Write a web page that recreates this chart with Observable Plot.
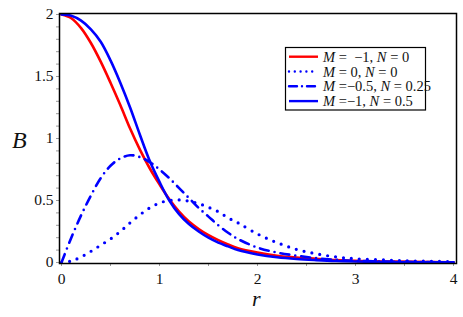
<!DOCTYPE html>
<html><head><meta charset="utf-8">
<script src="https://cdn.jsdelivr.net/npm/d3@7"></script>
<script src="https://cdn.jsdelivr.net/npm/@observablehq/plot@0.6"></script>
<style>
body{margin:0;background:#fff}
</style>
</head><body><div id="chart"></div>
<script>
// r grid
const r = [0,0.1,0.2,0.3,0.4,0.5,0.6,0.7,0.8,0.9,1.0,1.1,1.2,1.3,1.4,1.5,1.6,1.7,1.8,2.0,2.2,2.4,2.6,2.8,3.0,3.3,3.6,4.0];
// M = -1, N = 0 (red solid)
const bRed = [2.00,1.97,1.89,1.77,1.62,1.45,1.27,1.08,0.91,0.76,0.63,0.51,0.41,0.33,0.27,0.22,0.18,0.145,0.115,0.08,0.055,0.04,0.03,0.02,0.013,0.008,0.005,0.002];
// M = 0, N = 0 (blue dotted)
const bDot = [0,0.012,0.045,0.09,0.14,0.19,0.25,0.32,0.385,0.44,0.48,0.50,0.505,0.495,0.475,0.445,0.41,0.36,0.32,0.23,0.16,0.105,0.07,0.045,0.03,0.02,0.012,0.007];
// M = -0.5, N = 0.25 (blue dash-dot)
const bDashDot = [0,0.20,0.38,0.54,0.68,0.78,0.84,0.865,0.85,0.81,0.75,0.68,0.60,0.52,0.44,0.37,0.30,0.24,0.19,0.12,0.08,0.055,0.035,0.022,0.013,0.007,0.004,0.001];
// M = -1, N = 0.5 (blue solid)
const bBlue = [2.00,1.99,1.95,1.88,1.78,1.63,1.45,1.25,1.03,0.82,0.65,0.50,0.39,0.31,0.25,0.20,0.16,0.13,0.10,0.065,0.042,0.028,0.019,0.012,0.008,0.004,0.002,0.001];

const xMajor = [0,1,2,3,4];
const xMinor = [0,0.5,1,1.5,2,2.5,3,3.5,4];
const yMajor = [0,0.5,1,1.5,2];
const yMinor = d3.range(0,21).map(i => i/10);

const legendLabels = [
  {M:" =  \u22121, ", N:" = 0"},
  {M:" = 0, ", N:" = 0"},
  {M:" =\u22120.5, ", N:" = 0.25"},
  {M:" =\u22121, ", N:" = 0.5"}
];

const rows = a => r.map((x,i) => ({r:x, b:a[i]}));
const RED = "#ff0000", BLUE = "#0000ff";
const styles = [
  {stroke:RED, dash:null},
  {stroke:BLUE, dash:"0 5.8"},
  {stroke:BLUE, dash:"8 5 0 5"},
  {stroke:BLUE, dash:null}
];
const FONT = "'Liberation Serif'";

const chart = Plot.plot({
  width:463, height:317,
  marginLeft:59, marginRight:7, marginTop:13, marginBottom:54,
  style:{fontSize:"15.5px", background:"#fff"},
  x:{domain:[0,4], insetLeft:2, insetRight:3},
  y:{domain:[0,2], insetTop:1, insetBottom:1},
  marks:[
    Plot.axisX(xMinor, {tickSize:3, stroke:"#9a9a9a", tickFormat:()=>"", label:null}),
    Plot.axisX(xMajor, {tickSize:0, tickPadding:9, fontSize:15.5, fill:"#111", label:null}),
    Plot.axisY(yMinor, {tickSize:3, stroke:"#9a9a9a", tickFormat:()=>"", label:null}),
    Plot.axisY(yMajor, {tickSize:0, tickPadding:6, fontSize:15.5, fill:"#111", label:null, tickFormat:d=>String(d)}),
    Plot.line(rows(bRed), {x:"r", y:"b", stroke:RED, strokeWidth:2.6, curve:"catmull-rom"}),
    Plot.line(rows(bDot), {x:"r", y:"b", stroke:BLUE, strokeWidth:3.2, strokeDasharray:"0 8", strokeLinecap:"round", curve:"catmull-rom"}),
    Plot.line(rows(bDashDot), {x:"r", y:"b", stroke:BLUE, strokeWidth:2.6, strokeDasharray:"9 6 0 6", strokeLinecap:"round", curve:"catmull-rom"}),
    Plot.line(rows(bBlue), {x:"r", y:"b", stroke:BLUE, strokeWidth:2.6, curve:"catmull-rom"}),
    Plot.frame({stroke:"#000", strokeWidth:1.5})
  ]
});
document.getElementById("chart").appendChild(chart);

const svg = d3.select(chart);
// axis titles
svg.append("text").attr("x",12).attr("y",148).attr("font-size",24).attr("font-style","italic")
  .attr("text-anchor","start").attr("fill","#111").text("B");
svg.append("text").attr("x",252).attr("y",306).attr("font-size",22).attr("font-style","italic")
  .attr("text-anchor","start").attr("fill","#111").text("r");

// legend
const lg = svg.append("g");
lg.append("rect").attr("x",285.5).attr("y",47.5).attr("width",140).attr("height",62.5)
  .attr("fill","#fff").attr("stroke","#000").attr("stroke-width",1.2);
legendLabels.forEach((d,i) => {
  const cy = 56.7 + i*14.8;
  const s = styles[i];
  const ln = lg.append("line").attr("x1",289).attr("x2",318).attr("y1",cy).attr("y2",cy)
    .attr("stroke",s.stroke).attr("stroke-width",2.4);
  if (s.dash) ln.attr("stroke-dasharray", s.dash).attr("stroke-linecap","round");
  const t = lg.append("text").attr("x",323).attr("y",cy+5).attr("font-size",14.5)
    .attr("text-anchor","start").attr("fill","#111").style("white-space","pre");
  t.append("tspan").attr("font-style","italic").text("M");
  t.append("tspan").text(d.M);
  t.append("tspan").attr("font-style","italic").text("N");
  t.append("tspan").text(d.N);
});
// force the serif face on every text node
svg.selectAll("text").style("font-family", FONT);
svg.style("font-family", FONT);
</script>
</body></html>
